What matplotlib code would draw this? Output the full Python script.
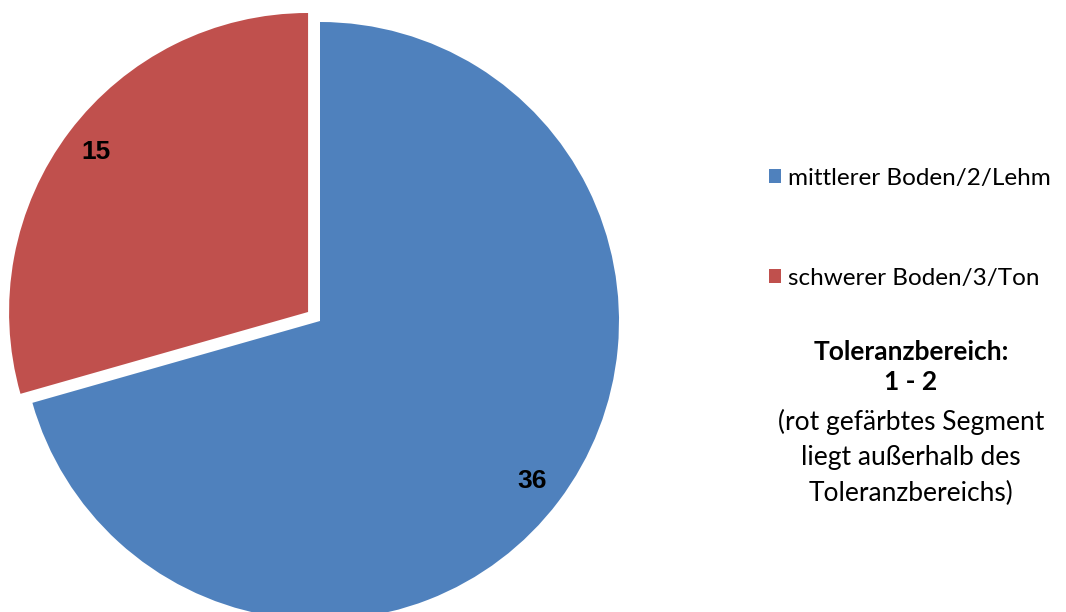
import matplotlib.pyplot as plt

W, H = 1066, 612
CX, CY, R = 320, 321, 299   # pie centre and radius in pixels

labels = ["mittlerer Boden/2/Lehm", "schwerer Boden/3/Ton"]
values = [36, 15]
colors = ["#4F81BD", "#C0504D"]
explode = [0, 0.05]

note_bold = ["Toleranzbereich:", "1 - 2"]
note_plain = ["(rot gefärbtes Segment", "liegt außerhalb des", "Toleranzbereichs)"]

fig = plt.figure(figsize=(W / 100, H / 100), dpi=100)
ax = fig.add_axes([0, 0, 1, 1])

wedges, texts, autotexts = ax.pie(
    values, colors=colors, explode=explode, startangle=90, counterclock=False,
    radius=1, autopct=lambda p: f"{p * sum(values) / 100:.0f}", pctdistance=0.89,
    textprops=dict(family="Liberation Sans", fontsize=19, fontweight="bold", color="black"),
)
# pie resets the limits, so fix them afterwards
ax.set_xlim(-CX / R, (W - CX) / R)
ax.set_ylim(-(H - CY) / R, CY / R)
ax.set_aspect("equal")
ax.axis("off")

leg = ax.legend(wedges, labels, loc="upper left", bbox_to_anchor=(769 / W, 1 - 168 / H),
                bbox_transform=fig.transFigure, frameon=False,
                prop=dict(family="Lato", size=17.5), handlelength=0.5, handleheight=0.5,
                handletextpad=0.3, labelspacing=3.25, borderpad=0, borderaxespad=0)

ys = [352, 382, 422, 458, 493]
for i, line in enumerate(note_bold + note_plain):
    fig.text(911 / W, 1 - ys[i] / H, line, ha="center", va="center",
             family="Lato", fontsize=19,
             fontweight="bold" if line in note_bold else "normal")

fig.savefig("out.png", dpi=100)
